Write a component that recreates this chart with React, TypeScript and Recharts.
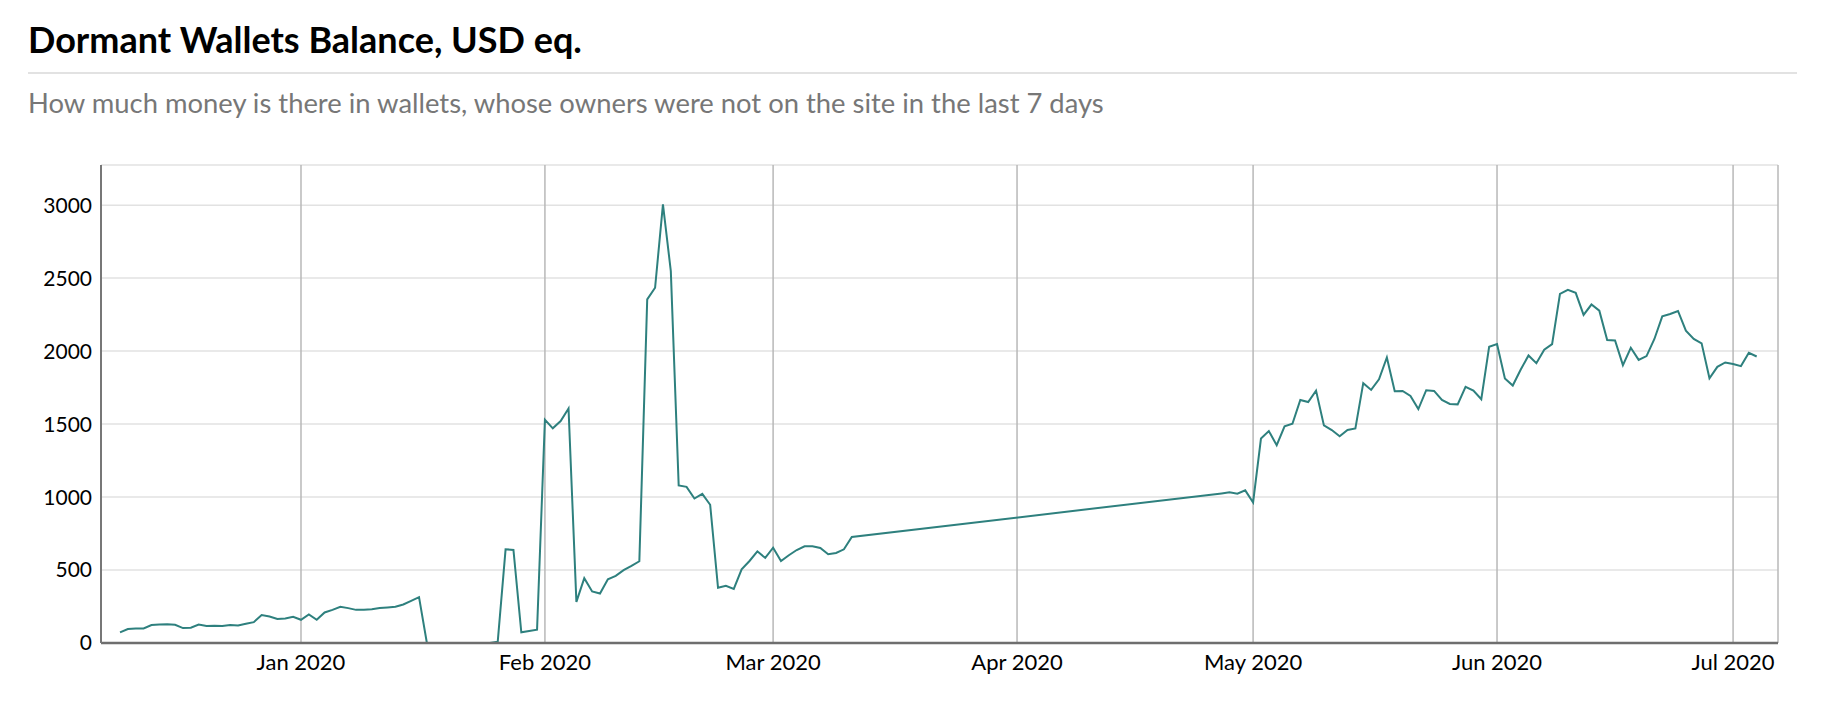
import { CartesianGrid, Line, LineChart, XAxis, YAxis } from "recharts";

// daily balances (USD eq.)
const decStart = "2019-12-09";
const decValues = [73, 96, 100, 100, 123, 127, 129, 125, 102, 105, 127, 116, 118, 116, 123, 120, 132, 143, 191, 182, 164, 168, 180];
const janStart = "2020-01-01";
const janValues = [159, 196, 159, 209, 227, 248, 239, 227, 227, 232, 239, 243, 248, 264, 289, 314, 0, 0, 0, 0, 0, 0, 0, 0, 0, 8, 642, 638, 73, 82, 91];
const febStart = "2020-02-01";
const febValues = [1530, 1471, 1521, 1607, 282, 444, 353, 339, 437, 460, 499, 528, 560, 2354, 2434, 3005, 2548, 1079, 1070, 990, 1022, 947, 378, 392, 371, 505, 562, 628, 583];
const marStart = "2020-03-01";
const marValues = [653, 562, 601, 637, 663, 663, 651, 608, 617, 642, 726];
const aprStart = "2020-04-27";
const aprValues = [1025, 1032, 1023, 1046];
const mayStart = "2020-05-01";
const mayValues = [963, 1401, 1452, 1355, 1484, 1502, 1665, 1651, 1729, 1491, 1459, 1417, 1459, 1470, 1780, 1734, 1807, 1956, 1725, 1727, 1693, 1603, 1732, 1727, 1665, 1638, 1635, 1755, 1729, 1670, 2030];
const junStart = "2020-06-01";
const junValues = [2048, 1812, 1764, 1872, 1970, 1917, 2009, 2048, 2392, 2420, 2399, 2248, 2319, 2277, 2076, 2073, 1904, 2023, 1940, 1966, 2083, 2238, 2254, 2275, 2140, 2083, 2053, 1814, 1892, 1922];
const julStart = "2020-07-01";
const julValues = [1911, 1897, 1988, 1963];

const monthTicks = ["2020-01-01", "2020-02-01", "2020-03-01", "2020-04-01", "2020-05-01", "2020-06-01", "2020-07-01"];
const yTicks = [0, 500, 1000, 1500, 2000, 2500, 3000];
const monthNames = ["Jan", "Feb", "Mar", "Apr", "May", "Jun", "Jul", "Aug", "Sep", "Oct", "Nov", "Dec"];

const DAY = 86400000;
const segments: Array<[string, number[]]> = [
  [decStart, decValues],
  [janStart, janValues],
  [febStart, febValues],
  [marStart, marValues],
  [aprStart, aprValues],
  [mayStart, mayValues],
  [junStart, junValues],
  [julStart, julValues],
];

const data = segments.flatMap(([start, values]) => {
  const t0 = Date.parse(start + "T00:00:00Z");
  return values.map((v, i) => ({ t: t0 + i * DAY, balance: v }));
});

const xDomain = [Date.parse("2019-12-06T14:00:00Z"), Date.parse("2020-07-06T17:00:00Z")];
const xTicks = monthTicks.map((d) => Date.parse(d + "T00:00:00Z"));

const fmtMonth = (t: number) => {
  const d = new Date(t);
  return `${monthNames[d.getUTCMonth()]} ${d.getUTCFullYear()}`;
};

const FONT = "Lato, 'Open Sans', sans-serif";

export default function App() {
  return (
    <div style={{ position: "relative", width: 1822, height: 696, fontFamily: FONT }}>
      <div
        style={{
          position: "absolute",
          left: 20,
          top: 13,
          fontSize: 36,
          lineHeight: 1,
          fontWeight: 700,
          color: "#000",
          whiteSpace: "nowrap",
        }}
      >
        Dormant Wallets Balance, USD eq.
      </div>
      <div style={{ position: "absolute", left: 20, top: 64, width: 1769, height: 2, background: "#e2e2e2" }} />
      <div
        style={{
          position: "absolute",
          left: 20,
          top: 81,
          fontSize: 27.4,
          lineHeight: 1,
          color: "#777",
          whiteSpace: "nowrap",
        }}
      >
        How much money is there in wallets, whose owners were not on the site in the last 7 days
      </div>
      <div style={{ position: "absolute", left: 0, top: 130 }}>
        <LineChart width={1822} height={560} data={data} margin={{ top: 27, right: 52, bottom: 15, left: 0 }}>
          <CartesianGrid vertical={false} stroke="#e2e2e2" strokeWidth={1.5} />
          <CartesianGrid horizontal={false} stroke="#b8b8b8" strokeWidth={1.5} />
          <XAxis
            dataKey="t"
            type="number"
            scale="time"
            domain={xDomain}
            ticks={xTicks}
            tickFormatter={fmtMonth}
            height={40}
            tickLine={false}
            tickMargin={5}
            axisLine={{ stroke: "#6e6e6e", strokeWidth: 2.5 }}
            tick={{ fontSize: 22, fill: "#000", fontFamily: FONT }}
            allowDataOverflow
          />
          <YAxis
            type="number"
            domain={[0, 3275]}
            ticks={yTicks}
            width={93}
            tickLine={false}
            tickMargin={3}
            axisLine={{ stroke: "#777", strokeWidth: 2 }}
            tick={{ fontSize: 21, fill: "#000", fontFamily: FONT }}
            allowDataOverflow
          />
          <Line
            type="linear"
            dataKey="balance"
            stroke="#2e807e"
            strokeWidth={2}
            dot={false}
            activeDot={false}
            isAnimationActive={false}
          />
        </LineChart>
      </div>
    </div>
  );
}
